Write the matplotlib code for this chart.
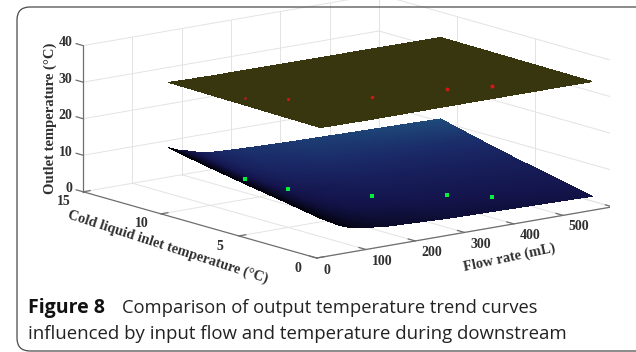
import numpy as np
import matplotlib
matplotlib.use('Agg')
import matplotlib.pyplot as plt
from matplotlib.colors import LinearSegmentedColormap
from matplotlib.patches import FancyBboxPatch
from matplotlib.transforms import IdentityTransform
from mpl_toolkits.mplot3d import proj3d

# values
flow_ticks = [0, 100, 200, 300, 400, 500, 600]
flow_labels = ['0', '100', '200', '300', '400', '500']
inlet_ticks = [0, 5, 10, 15]
outlet_ticks = [0, 10, 20, 30, 40]

flow_knots = [11, 30, 50, 70, 100, 150, 270, 563]
inlet_knots = [0.13, 2.5, 5, 7.5, 9.87]
cold_surface = [
    [10.5, 9.1, 7.6, 6.6, 5.8, 5.1, 4.4, 3.6],
    [12.3, 11.0, 9.7, 8.8, 7.9, 7.2, 6.5, 5.8],
    [14.1, 13.0, 11.9, 11.0, 10.1, 9.4, 8.7, 8.0],
    [16.0, 14.9, 14.0, 13.0, 12.3, 11.7, 11.2, 10.5],
    [18.0, 16.9, 16.2, 15.4, 14.7, 14.3, 13.8, 13.0],
]
cold_shade = [
    [0.0, 0.0, 0.02, 0.05, 0.10, 0.15, 0.22, 0.30],
    [0.0, 0.03, 0.08, 0.15, 0.24, 0.30, 0.35, 0.40],
    [0.0, 0.08, 0.16, 0.25, 0.35, 0.42, 0.48, 0.52],
    [0.0, 0.12, 0.23, 0.36, 0.50, 0.60, 0.68, 0.72],
    [0.0, 0.18, 0.33, 0.47, 0.62, 0.74, 0.85, 1.00],
]
hot_surface = [
    [35.3, 35.2, 35.2, 35.2, 35.1, 35.1, 35.1, 35.0],
    [35.9, 35.8, 35.7, 35.7, 35.6, 35.6, 35.5, 35.3],
]
hot_inlet = [0.13, 9.87]

point_flow = [12, 100, 271, 423, 514]
point_inlet = [5, 5, 5, 5, 5]
hot_points = [37.5, 35.2, 31.7, 30.3, 29.0]
cold_points = [15.4, 10.6, 4.7, 1.4, -1.3]
hot_point_sizes = [1.8, 2.2, 2.6, 2.8, 3.0]


def refine(grid, rows, cols, steps=140):
    # finer mesh of the read grid, only so the shading looks smooth
    rows = np.asarray(rows, float)
    cols = np.asarray(cols, float)
    fine_rows = np.linspace(rows[0], rows[-1], steps)
    fine_cols = np.linspace(cols[0], cols[-1], steps)
    across = np.array([np.interp(fine_cols, cols, r) for r in np.asarray(grid, float)])
    out = np.array([np.interp(fine_rows, rows, across[:, j]) for j in range(steps)]).T
    xx, yy = np.meshgrid(fine_cols, fine_rows)
    return xx, yy, out


def label3d(x, y, z, s, ha='center'):
    # project by hand so the label is an ordinary 2D text
    px, py, _ = proj3d.proj_transform(x, y, z, ax.get_proj())
    ax.text2D(px, py, s, transform=ax.transData, ha=ha, va='center', fontsize=10,
              fontweight='bold', color=text_c)


plt.rcParams['font.family'] = ['Liberation Serif', 'DejaVu Serif']
fig = plt.figure(figsize=(6.36, 3.52), dpi=100)
side = 538
ax = fig.add_axes([71.5 / 636, -50.5 / 352, side / 636, side / 352], projection='3d',
                  computed_zorder=False, proj_type='ortho')
ax.patch.set_alpha(0)
ax.view_init(elev=12.8, azim=232)
ax.set_box_aspect((373, 377, 149))
ax.set_xlim(0, 600)
ax.set_ylim(0, 15)
ax.set_zlim(0, 40)
ax.set_axis_off()

grid_c = '#e3e3e3'
axis_c = '#6e6e6e'
text_c = '#303030'
for f in flow_ticks[1:]:
    ax.plot([f, f], [0, 15], [0, 0], color=grid_c, lw=0.7, zorder=1)
    ax.plot([f, f], [15, 15], [0, 40], color=grid_c, lw=0.7, zorder=1)
for t in inlet_ticks[:-1]:
    ax.plot([0, 600], [t, t], [0, 0], color=grid_c, lw=0.7, zorder=1)
    ax.plot([600, 600], [t, t], [0, 40], color=grid_c, lw=0.7, zorder=1)
for z in outlet_ticks[1:]:
    ax.plot([0, 600], [15, 15], [z, z], color=grid_c, lw=0.7, zorder=1)
    ax.plot([600, 600], [0, 15], [z, z], color=grid_c, lw=0.7, zorder=1)
ax.plot([0, 600], [15, 15], [0, 0], color=grid_c, lw=0.7, zorder=1)
ax.plot([600, 600], [0, 15], [0, 0], color=grid_c, lw=0.7, zorder=1)

# axis lines and ticks
ax.plot([0, 0], [15, 15], [0, 40], color=axis_c, lw=0.9, zorder=2)
ax.plot([0, 0], [0, 15], [0, 0], color=axis_c, lw=0.9, zorder=2)
ax.plot([0, 600], [0, 0], [0, 0], color=axis_c, lw=0.9, zorder=2)
for z in outlet_ticks:
    ax.plot([0, 0], [15, 15.45], [z, z], color=axis_c, lw=0.9, zorder=2)
    label3d(0, 15.7, z, str(z), ha='right')
for t in inlet_ticks:
    ax.plot([0, 14], [t, t], [0, 0], color=axis_c, lw=0.9, zorder=2)
    label3d(-39, t, -1.85, str(t))
for f in flow_ticks:
    ax.plot([f, f], [0, 0.45], [0, 0], color=axis_c, lw=0.9, zorder=2)
for f, lab in zip(flow_ticks, flow_labels):
    label3d(f if f else -12, -1.03, -1.93, lab)

# surfaces
cmap = LinearSegmentedColormap.from_list('cold', ['#03030f', '#14144c', '#1a2a68', '#1f4c7c'])
xx, yy, zz = refine(cold_surface, inlet_knots, flow_knots)
_, _, ss = refine(cold_shade, inlet_knots, flow_knots)
ax.plot_surface(xx, yy, zz, facecolors=cmap(ss), rstride=1, cstride=1, shade=False,
                linewidth=0, antialiased=False, zorder=3)
xx, yy, zz = refine(hot_surface, hot_inlet, flow_knots)
ax.plot_surface(xx, yy, zz, color='#37360f', rstride=1, cstride=1, shade=False,
                linewidth=0, antialiased=False, zorder=4)

ax.plot(point_flow, point_inlet, cold_points, ls='none', marker='s', ms=2.6, mew=0, color='#00f040', zorder=5)
for f, t, z, ms in zip(point_flow, point_inlet, hot_points, hot_point_sizes):
    ax.plot([f], [t], [z], ls='none', marker='o', ms=ms, mew=0, color='#d01818', zorder=5)

fig.text(50 / 636, 1 - 118 / 352, 'Outlet temperature (°C)', rotation=90, ha='center', va='center',
         fontsize=10.5, fontweight='bold', color=text_c)
fig.text(168 / 636, 1 - 247 / 352, 'Cold liquid inlet temperature (°C)', rotation=-18, ha='center', va='center',
         rotation_mode='anchor', fontsize=10.4, fontweight='bold', color=text_c)
fig.text(509 / 636, 1 - 258 / 352, 'Flow rate (mL)', rotation=12, ha='center', va='center',
         rotation_mode='anchor', fontsize=10.4, fontweight='bold', color=text_c)

# panel frame and caption
fig.add_artist(FancyBboxPatch((17, 1), 680, 344, boxstyle='round,pad=0,rounding_size=13',
                              transform=IdentityTransform(), fc='none', ec='#4a4a4a', lw=0.9))
fig.text(28 / 636, 1 - 308 / 352, 'Figure 8', family='Open Sans', fontweight='bold', fontsize=14,
         ha='left', va='center', color='#111111')
fig.text(122 / 636, 1 - 308 / 352, 'Comparison of output temperature trend curves', family='Open Sans',
         fontsize=13.2, ha='left', va='center', color='#222222')
fig.text(28 / 636, 1 - 334 / 352, 'influenced by input flow and temperature during downstream', family='Open Sans',
         fontsize=13.4, ha='left', va='center', color='#222222')

fig.savefig('out.png', dpi=100)
